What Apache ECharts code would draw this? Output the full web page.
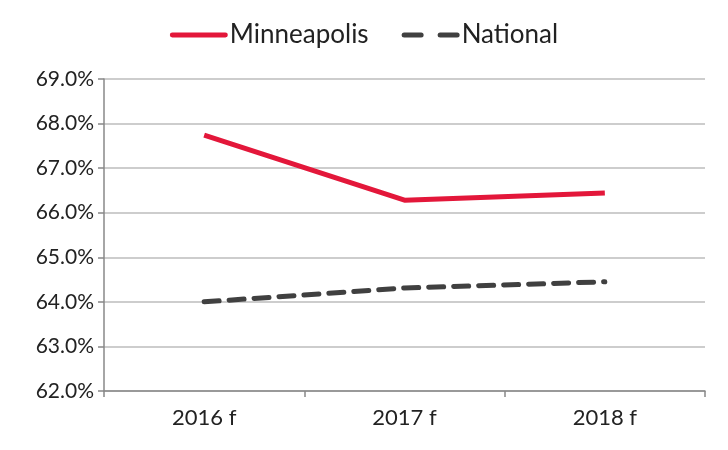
<!DOCTYPE html>
<html><head><meta charset="utf-8">
<script src="https://cdn.jsdelivr.net/npm/echarts@6/dist/echarts.min.js"></script>
<style>html,body{margin:0;padding:0;background:#fff}#c{width:728px;height:450px}</style>
</head><body><div id="c"></div>
<script>
const categories = ['2016 f', '2017 f', '2018 f'];
const minneapolis = [67.74, 66.28, 66.44];
const national = [64.0, 64.31, 64.45];
const yTicks = { min: 62, max: 69, interval: 1 };

const chart = echarts.init(document.getElementById('c'), null, { renderer: 'canvas' });
const font = 'Lato, "Open Sans", sans-serif';
chart.setOption({
  animation: false,
  backgroundColor: '#ffffff',
  legend: {
    top: 17, left: 'center', itemGap: 33, itemWidth: 58, itemHeight: 5,
    textStyle: { fontFamily: font, fontSize: 26, color: '#222', padding: [0,0,0,-3] },
    data: [
      { name: 'Minneapolis', icon: 'path://M2,0H56A2,2 0 0 1 56,5H2A2,2 0 0 1 2,0Z', itemStyle: { color: '#e3173a' } },
      { name: 'National', icon: 'path://M2,0H19A2,2 0 0 1 19,5H2A2,2 0 0 1 2,0Z M38,0H55A2,2 0 0 1 55,5H38A2,2 0 0 1 38,0Z', itemStyle: { color: '#404040' } }
    ]
  },
  grid: { left: 104, right: 23, top: 79, bottom: 59 },
  xAxis: {
    type: 'category', data: categories, boundaryGap: true,
    axisLine: { lineStyle: { color: '#888', width: 1.5 } },
    axisTick: { show: true, length: 6, lineStyle: { color: '#888', width: 1.5 } },
    axisLabel: { fontFamily: font, fontSize: 22, color: '#222', margin: 16 }
  },
  yAxis: {
    type: 'value', min: yTicks.min, max: yTicks.max, interval: yTicks.interval,
    axisLine: { show: true, lineStyle: { color: '#888', width: 1.5 } },
    axisTick: { show: true, length: 6, lineStyle: { color: '#888', width: 1.5 } },
    splitLine: { lineStyle: { color: '#bdbdbd', width: 1.5 } },
    axisLabel: { fontFamily: font, fontSize: 21, color: '#222', margin: 10,
      formatter: v => v.toFixed(1) + '%' }
  },
  series: [
    { name: 'Minneapolis', type: 'line', data: minneapolis, symbol: 'none',
      itemStyle: { color: '#e3173a' },
      lineStyle: { color: '#e3173a', width: 5 } },
    { name: 'National', type: 'line', data: national, symbol: 'none',
      itemStyle: { color: '#404040' },
      lineStyle: { color: '#404040', width: 5, type: [15, 10], cap: 'round' } }
  ]
});
</script></body></html>
